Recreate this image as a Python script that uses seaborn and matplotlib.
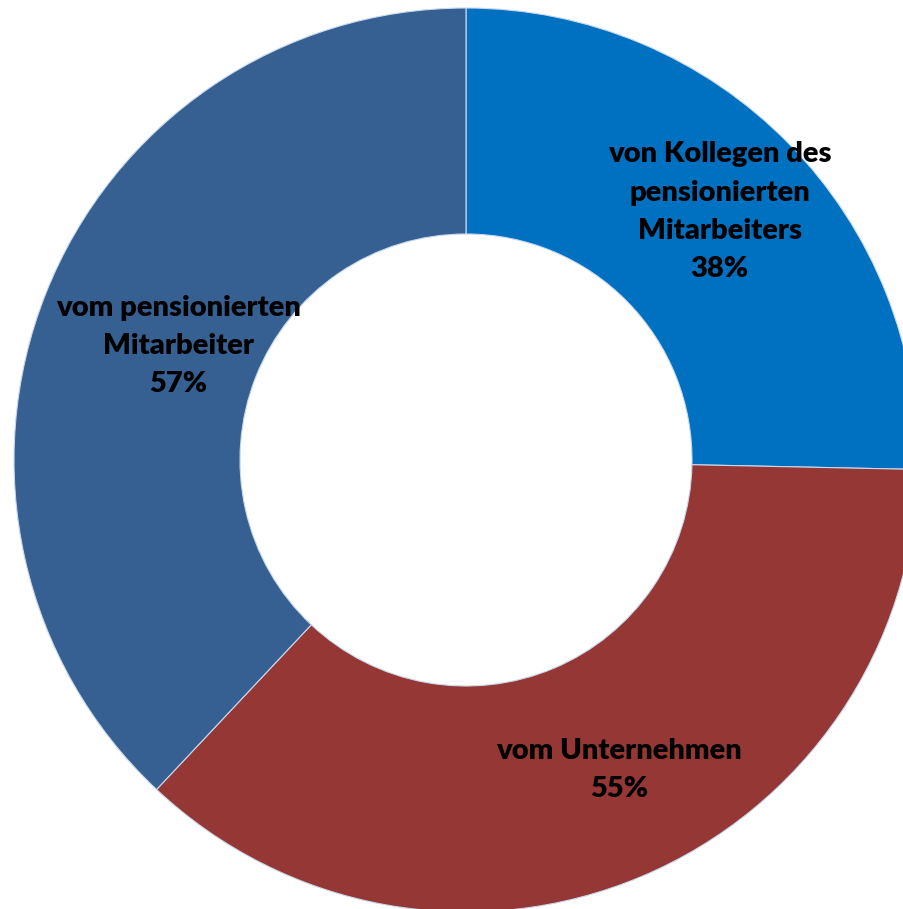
import numpy as np
import matplotlib
matplotlib.use("Agg")
import matplotlib.pyplot as plt
import seaborn as sns

labels = ["von Kollegen des\npensionierten\nMitarbeiters", "vom Unternehmen", "vom pensionierten\nMitarbeiter"]
values = [38, 55, 57]
colors = ["#0070C0", "#953735", "#376092"]
# where Excel put the labels: fraction of the radius, and nudge in degrees
label_r = [0.785, 0.765, 0.685]
label_nudge = [0, 3.5, 0]

sns.set_theme(style="white")
plt.rcParams["font.family"] = ["Lato", "DejaVu Sans"]

fig = plt.figure(figsize=(9.04, 9.09), dpi=100)
# circle overhangs the right and bottom edges slightly, as in the original
ax = fig.add_axes([14 / 904, -3 / 909, 904 / 904, 904 / 909])

wedges, _ = ax.pie(values, colors=colors, startangle=90, counterclock=False,
                   radius=1.0, wedgeprops=dict(width=0.5, edgecolor="#c9d9ee", linewidth=0.8))

for w, lab, v, r, d in zip(wedges, labels, values, label_r, label_nudge):
    ang = np.deg2rad((w.theta1 + w.theta2) / 2 + d)
    ax.text(r * np.cos(ang), r * np.sin(ang), f"{lab}\n{v}%", ha="center", va="center",
            fontsize=21, fontweight="heavy", color="black", linespacing=1.58)

ax.set_xlim(-1, 1)
ax.set_ylim(-1, 1)
ax.set_aspect("equal")
ax.axis("off")

fig.savefig("out.png", dpi=100)
